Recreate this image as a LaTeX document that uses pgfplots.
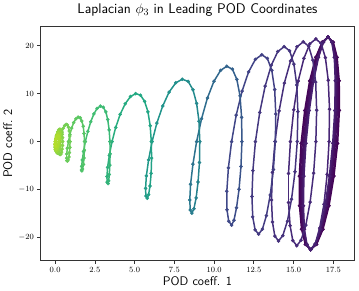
\RequirePackage{fix-cm}
\documentclass[border=0pt]{standalone}
\usepackage{fontspec}
\usepackage{pgfplots}
\usepackage{pgfplotstable}
\pgfplotsset{compat=1.18}
\pgfplotstableread{
x y t
16.07 -22.50 0.5
16.45 -21.41 0.5
16.85 -18.27 0.5
17.23 -13.37 0.5
17.54 -7.19 0.5
17.77 -0.35 0.5
17.88 6.49 0.5
17.87 12.67 0.5
17.74 17.57 0.5
17.50 20.71 0.5
17.17 21.80 0.5
16.79 20.71 0.5
16.39 17.57 0.5
16.01 12.67 0.5
15.70 6.49 0.5
15.47 -0.35 0.5
15.36 -7.19 0.5
15.37 -13.37 0.5
15.50 -18.27 0.5
15.74 -21.41 0.5
16.07 -22.50 2
16.43 -21.41 2
16.81 -18.27 2
17.17 -13.37 2
17.48 -7.19 2
17.70 -0.35 2
17.82 6.49 2
17.82 12.67 2
17.70 17.57 2
17.48 20.71 2
17.17 21.80 2
16.81 20.71 2
16.43 17.57 2
16.07 12.67 2
15.76 6.49 2
15.54 -0.35 2
15.42 -7.19 2
15.42 -13.37 2
15.54 -18.27 2
15.76 -21.41 2
16.07 -22.50 3.5
16.41 -21.41 3.5
16.77 -18.27 3.5
17.11 -13.37 3.5
17.41 -7.19 3.5
17.63 -0.35 3.5
17.75 6.49 3.5
17.76 12.67 3.5
17.66 17.57 3.5
17.46 20.71 3.5
17.17 21.80 3.5
16.83 20.71 3.5
16.47 17.57 3.5
16.13 12.67 3.5
15.83 6.49 3.5
15.61 -0.35 3.5
15.49 -7.19 3.5
15.48 -13.37 3.5
15.58 -18.27 3.5
15.79 -21.41 3.5
16.07 -22.50 5
16.39 -21.41 5
16.73 -18.27 5
17.07 -13.37 5
17.35 -7.19 5
17.57 -0.35 5
17.69 6.49 5
17.71 12.67 5
17.62 17.57 5
17.44 20.71 5
17.17 21.80 5
16.85 20.71 5
16.51 17.57 5
16.17 12.67 5
15.89 6.49 5
15.67 -0.35 5
15.55 -7.19 5
15.53 -13.37 5
15.62 -18.27 5
15.80 -21.41 5
16.07 -22.50 6.5
16.37 -21.41 6.5
16.70 -18.27 6.5
17.02 -13.37 6.5
17.30 -7.19 6.5
17.51 -0.35 6.5
17.64 6.49 6.5
17.66 12.67 6.5
17.59 17.57 6.5
17.42 20.71 6.5
17.17 21.80 6.5
16.87 20.71 6.5
16.54 17.57 6.5
16.22 12.67 6.5
15.94 6.49 6.5
15.73 -0.35 6.5
15.60 -7.19 6.5
15.58 -13.37 6.5
15.65 -18.27 6.5
15.82 -21.41 6.5
16.07 -22.50 8.5
16.36 -21.41 8.5
16.67 -18.27 8.5
16.98 -13.37 8.5
17.25 -7.19 8.5
17.46 -0.35 8.5
17.59 6.49 8.5
17.62 12.67 8.5
17.56 17.57 8.5
17.40 20.71 8.5
17.17 21.80 8.5
16.88 20.71 8.5
16.57 17.57 8.5
16.26 12.67 8.5
15.99 6.49 8.5
15.78 -0.35 8.5
15.65 -7.19 8.5
15.62 -13.37 8.5
15.68 -18.27 8.5
15.84 -21.41 8.5
16.07 -22.50 10.0
16.36 -21.29 10.1
16.64 -18.03 10.2
16.91 -13.04 10.3
17.11 -6.82 10.4
17.23 0.00 10.5
17.26 6.75 10.6
17.18 12.78 10.7
17.00 17.49 10.8
16.73 20.46 10.9
16.40 21.40 11.0
16.02 20.38 11.1
15.65 17.36 11.2
15.29 12.64 11.3
15.01 6.65 11.4
14.80 0.00 11.5
14.68 -6.67 11.6
14.68 -12.71 11.7
14.78 -17.51 11.8
14.95 -20.61 11.9
15.20 -21.70 12.0
15.47 -20.55 12.1
15.77 -17.41 12.2
16.04 -12.60 12.3
16.26 -6.59 12.4
16.40 0.00 12.5
16.45 6.54 12.6
16.39 12.39 12.7
16.21 16.97 12.8
15.95 19.87 12.9
15.61 20.80 13.0
15.22 19.77 13.1
14.81 16.81 13.2
14.42 12.21 13.3
14.09 6.41 13.4
13.83 0.00 13.5
13.67 -6.41 13.6
13.61 -12.19 13.7
13.67 -16.76 13.8
13.82 -19.70 13.9
14.05 -20.70 14.0
14.32 -19.60 14.15
14.61 -16.60 14.3
14.87 -12.01 14.45
15.09 -6.29 14.6
15.23 0.00 14.75
15.27 6.23 14.9
15.20 11.80 15.05
15.02 16.16 15.2
14.75 18.92 15.35
14.41 19.80 15.5
14.01 18.78 15.65
13.60 15.94 15.8
13.21 11.55 15.95
12.87 6.06 16.1
12.60 0.00 16.25
12.44 -6.03 16.4
12.38 -11.44 16.55
12.43 -15.69 16.7
12.58 -18.40 16.85
12.80 -19.30 17.0
13.04 -18.24 17.25
13.29 -15.42 17.5
13.53 -11.14 17.75
13.73 -5.82 18.0
13.85 0.00 18.25
13.88 5.74 18.5
13.81 10.85 18.75
13.63 14.84 19.0
13.35 17.33 19.25
13.00 18.10 19.5
12.60 17.15 19.75
12.17 14.53 20.0
11.76 10.52 20.25
11.39 5.51 20.5
11.10 0.00 20.75
10.90 -5.46 21.0
10.80 -10.35 21.25
10.81 -14.19 21.5
10.92 -16.61 21.75
11.10 -17.40 22
11.25 -16.39 23
11.41 -13.80 24
11.57 -9.93 25
11.69 -5.17 26
11.75 0.00 27
11.73 5.06 28
11.63 9.53 29
11.43 12.98 30
11.15 15.09 31
10.80 15.70 32
10.41 14.85 33
9.99 12.57 34
9.58 9.09 35
9.21 4.75 36
8.90 0.00 37
8.67 -4.70 38
8.52 -8.90 39
8.47 -12.18 40
8.50 -14.25 41
8.60 -14.90 42.0
8.73 -13.99 42.7
8.87 -11.75 43.4
8.99 -8.43 44.1
9.08 -4.37 44.8
9.10 0.00 45.5
9.05 4.25 46.2
8.90 7.98 46.9
8.67 10.82 47.6
8.37 12.54 48.3
8.00 13.00 49.0
7.59 12.25 49.7
7.17 10.32 50.4
6.77 7.43 51.1
6.40 3.87 51.8
6.10 0.00 52.5
5.88 -3.79 53.2
5.74 -7.15 53.9
5.69 -9.74 54.6
5.71 -11.34 55.3
5.80 -11.80 56.0
5.88 -11.05 56.5
5.97 -9.25 56.9
6.04 -6.62 57.4
6.07 -3.42 57.8
6.05 0.00 58.3
5.98 3.31 58.7
5.84 6.20 59.2
5.63 8.38 59.6
5.37 9.68 60.1
5.07 10.00 60.5
4.74 9.39 61.0
4.41 7.89 61.4
4.09 5.66 61.9
3.81 2.94 62.3
3.58 0.00 62.8
3.41 -2.86 63.2
3.30 -5.37 63.7
3.26 -7.28 64.1
3.27 -8.44 64.6
3.33 -8.75 65.0
3.37 -8.19 65.4
3.41 -6.86 65.7
3.44 -4.91 66.1
3.46 -2.54 66.4
3.45 0.00 66.8
3.40 2.45 67.1
3.31 4.59 67.5
3.19 6.21 67.8
3.03 7.17 68.2
2.85 7.40 68.5
2.64 6.91 68.9
2.44 5.78 69.2
2.24 4.12 69.6
2.06 2.13 69.9
1.90 0.00 70.3
1.79 -2.05 70.6
1.71 -3.82 71.0
1.67 -5.15 71.3
1.66 -5.92 71.7
1.68 -6.10 72.0
1.73 -5.71 72.3
1.78 -4.77 72.5
1.82 -3.41 72.8
1.84 -1.76 73.0
1.85 0.00 73.3
1.82 1.70 73.5
1.77 3.18 73.8
1.68 4.29 74.0
1.58 4.95 74.3
1.45 5.10 74.5
1.31 4.75 74.8
1.17 3.96 75.0
1.04 2.81 75.3
0.93 1.45 75.5
0.84 0.00 75.8
0.77 -1.38 76.0
0.73 -2.57 76.3
0.73 -3.45 76.5
0.74 -3.95 76.8
0.78 -4.05 77.0
0.82 -3.81 77.2
0.87 -3.20 77.4
0.90 -2.30 77.6
0.93 -1.20 77.8
0.94 0.00 78.0
0.92 1.17 78.2
0.89 2.20 78.4
0.84 2.99 78.6
0.77 3.47 78.8
0.69 3.60 79.0
0.60 3.34 79.2
0.51 2.77 79.4
0.43 1.96 79.6
0.36 1.00 79.8
0.31 0.00 80.0
0.27 -0.95 80.2
0.26 -1.75 80.4
0.26 -2.33 80.6
0.28 -2.65 80.8
0.32 -2.70 81.0
0.37 -2.56 81.1
0.41 -2.17 81.2
0.44 -1.57 81.3
0.47 -0.82 81.4
0.48 0.00 81.5
0.47 0.82 81.6
0.45 1.55 81.7
0.41 2.12 81.8
0.36 2.48 81.9
0.30 2.60 82.0
0.23 2.45 82.1
0.17 2.07 82.2
0.12 1.49 82.3
0.08 0.78 82.4
0.05 0.00 82.5
0.04 -0.77 82.6
0.05 -1.45 82.7
0.07 -1.97 82.8
0.11 -2.30 82.9
0.15 -2.40 83.0
0.20 -2.26 83.1
0.24 -1.91 83.2
0.29 -1.38 83.3
0.33 -0.72 83.4
0.35 0.00 83.5
0.36 0.70 83.6
0.36 1.33 83.7
0.34 1.81 83.8
0.30 2.11 83.9
0.255 2.20 84.0
0.20 2.07 84.1
0.15 1.75 84.2
0.09 1.26 84.3
0.05 0.66 84.4
0.02 0.00 84.5
0.00 -0.64 84.6
0.00 -1.21 84.7
0.01 -1.65 84.8
0.04 -1.92 84.9
0.08 -2.00 85.0
0.12 -1.88 85.1
0.16 -1.59 85.2
0.20 -1.14 85.3
0.235 -0.59 85.4
0.26 0.00 85.5
0.27 0.58 85.6
0.27 1.09 85.7
0.26 1.49 85.8
0.23 1.73 85.9
0.20 1.80 86.0
0.16 1.69 86.1
0.12 1.42 86.2
0.08 1.02 86.3
0.045 0.53 86.4
0.02 0.00 86.5
0.005 -0.52 86.6
0.01 -0.98 86.7
0.02 -1.33 86.8
0.045 -1.54 86.9
0.07 -1.60 87.0
0.10 -1.49 87.1
0.14 -1.25 87.2
0.17 -0.89 87.3
0.20 -0.46 87.4
0.22 0.00 87.5
0.23 0.44 87.6
0.23 0.82 87.7
0.22 1.10 87.8
0.20 1.26 87.9
0.17 1.30 88.0
0.14 1.21 88.1
0.10 1.00 88.2
0.07 0.71 88.3
0.04 0.36 88.4
0.02 0.00 88.5
0.01 -0.35 88.6
0.01 -0.64 88.7
0.02 -0.86 88.8
0.04 -0.98 88.9
}\traj
\begin{document}
\begin{tikzpicture}
\begin{axis}[
  scale only axis, width=314pt, height=234pt,
  xmin=-0.9, xmax=18.8, ymin=-24.7, ymax=23.95,
  xtick={0,2.5,5,7.5,10,12.5,15,17.5},
  ytick={-20,-10,0,10,20},
  xticklabel style={/pgf/number format/.cd, fixed, fixed zerofill, precision=1},
  tick label style={font=\fontsize{8}{9}\selectfont},
  tick align=outside, tick pos=left,
  major tick length=3.5pt,
  tick style={black!80, line width=0.7pt},
  axis line style={black!80, line width=0.8pt},
  title={Laplacian $\phi_3$ in Leading POD Coordinates},
  title style={font=\sffamily\fontsize{14}{16}\selectfont, at={(axis description cs:0.5,1.047)}, anchor=center},
  xlabel={POD coeff. 1},
  ylabel={POD coeff. 2},
  label style={font=\sffamily\fontsize{12.5}{14}\selectfont},
  xlabel style={at={(axis description cs:0.5,-0.0897)}, anchor=center},
  ylabel style={at={(axis description cs:-0.105,0.5)}, anchor=center},
  colormap={vir}{rgb255=(68,1,84) rgb255=(72,36,117) rgb255=(65,68,135) rgb255=(53,95,141) rgb255=(42,120,142) rgb255=(33,145,140) rgb255=(34,168,132) rgb255=(68,191,112) rgb255=(122,209,81) rgb255=(189,223,38) rgb255=(253,231,37)},
  point meta min=0, point meta max=100,
]
\coordinate (bl) at (rel axis cs:0,0);
\coordinate (tr) at (rel axis cs:1,1);
\addplot[mesh, line width=1.5pt, point meta=\thisrow{t}] table[x=x, y=y] {\traj};
\addplot[scatter, only marks, mark=*, mark size=1.6pt, point meta=\thisrow{t},
  scatter/use mapped color={draw=mapped color, fill=mapped color}] table[x=x, y=y] {\traj};
\end{axis}
\path ([shift={(-40pt,-30pt)}]bl) rectangle ([shift={(5pt,22pt)}]tr);
\end{tikzpicture}
\end{document}
